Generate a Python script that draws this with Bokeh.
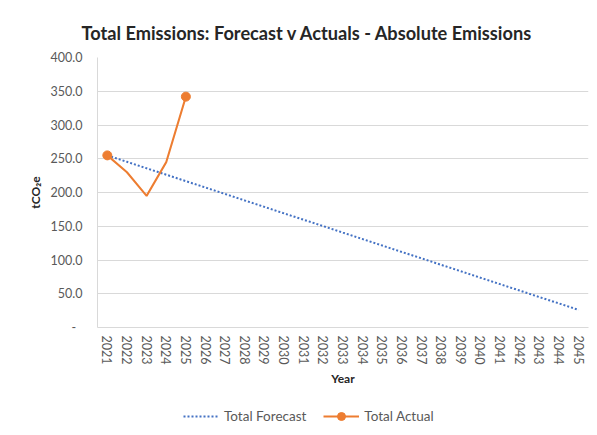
from bokeh.plotting import figure
from bokeh.layouts import column
from bokeh.models import (FactorRange, Range1d, FixedTicker, CustomJSTickFormatter,
                          Legend, LegendItem)
from bokeh.embed import file_html
from bokeh.resources import INLINE

# ---- data ----
years = ["2021", "2022", "2023", "2024", "2025", "2026", "2027", "2028", "2029",
         "2030", "2031", "2032", "2033", "2034", "2035", "2036", "2037", "2038",
         "2039", "2040", "2041", "2042", "2043", "2044", "2045"]
forecast = [255.0, 245.5, 235.9, 226.4, 216.8, 207.3, 197.8, 188.2, 178.7, 169.1,
            159.6, 150.1, 140.5, 131.0, 121.4, 111.9, 102.4, 92.8, 83.3, 73.7,
            64.2, 54.7, 45.1, 35.6, 26.0]
actual_years = ["2021", "2022", "2023", "2024", "2025"]
actual = [255.0, 230.0, 195.0, 245.0, 342.0]
y_ticks = [0, 50, 100, 150, 200, 250, 300, 350, 400]

marker_years = [actual_years[0], actual_years[-1]]
marker_vals = [actual[0], actual[-1]]

BLUE = "#4472C4"
ORANGE = "#ED7D31"
GRID = "#D9D9D9"
TXT = "#595959"
DARK = "#262626"
FONT = "Lato"

p = figure(width=597, height=395,
           x_range=FactorRange(factors=years, range_padding=0),
           y_range=Range1d(0, 400),
           output_backend="svg", toolbar_location=None,
           min_border_left=97, min_border_right=9,
           min_border_top=57, min_border_bottom=68)

p.title.text = "Total Emissions: Forecast v Actuals - Absolute Emissions"
p.title.text_font = FONT
p.title.text_font_size = "18.2px"
p.title.text_font_style = "bold"
p.title.text_color = DARK
p.title.align = "left"
p.title.offset = -16
p.title.standoff = 27

p.outline_line_color = None
p.background_fill_color = "white"
p.border_fill_color = "white"

# grid
p.xgrid.grid_line_color = None
p.ygrid.grid_line_color = GRID
p.ygrid.ticker = FixedTicker(ticks=y_ticks)

# y axis
p.yaxis.ticker = FixedTicker(ticks=y_ticks)
p.yaxis.formatter = CustomJSTickFormatter(
    code="return tick == 0 ? '-\u00a0\u00a0' : tick.toFixed(1);")
p.yaxis.axis_line_color = GRID
p.yaxis.major_tick_line_color = None
p.yaxis.minor_tick_line_color = None
p.yaxis.major_tick_out = 0
p.yaxis.major_tick_in = 0
p.yaxis.major_label_standoff = 15
p.yaxis.major_label_text_font = FONT
p.yaxis.major_label_text_font_size = "12.5px"
p.yaxis.major_label_text_color = TXT
p.yaxis.axis_label = "tCO\u2082e"
p.yaxis.axis_label_text_font = FONT
p.yaxis.axis_label_text_font_size = "12px"
p.yaxis.axis_label_text_font_style = "bold"
p.yaxis.axis_label_text_color = DARK
p.yaxis.axis_label_standoff = 5

# x axis
p.xaxis.axis_line_color = GRID
p.xaxis.major_tick_line_color = None
p.xaxis.minor_tick_line_color = None
p.xaxis.major_tick_out = 0
p.xaxis.major_tick_in = 0
p.xaxis.major_label_orientation = "vertical"
p.xaxis.major_label_standoff = 8
p.xaxis.major_label_text_font = FONT
p.xaxis.major_label_text_font_size = "12.5px"
p.xaxis.major_label_text_color = TXT
p.xaxis.axis_label = "Year"
p.xaxis.axis_label_text_font = FONT
p.xaxis.axis_label_text_font_size = "12px"
p.xaxis.axis_label_text_font_style = "bold"
p.xaxis.axis_label_text_color = DARK
p.xaxis.axis_label_standoff = 4

p.line(years, forecast, line_color=BLUE, line_width=2, line_dash="2 2")
p.line(actual_years, actual, line_color=ORANGE, line_width=2)
p.scatter(marker_years, marker_vals, size=9, color=ORANGE)

# ---- legend strip (library legend; sample renderers kept out of view) ----
leg = figure(width=597, height=40, x_range=Range1d(0, 1), y_range=Range1d(0, 1),
             output_backend="svg", toolbar_location=None,
             min_border_left=0, min_border_right=0, min_border_top=0,
             min_border_bottom=0)
leg.axis.visible = False
leg.grid.visible = False
leg.outline_line_color = None
leg.border_fill_color = "white"
leg.background_fill_color = "white"
lf = leg.line([-5, -4], [-5, -4], line_color=BLUE, line_width=2, line_dash="2 2")
la = leg.line([-5, -4], [-5, -4], line_color=ORANGE, line_width=2)
lm = leg.scatter([-5], [-5], size=9, color=ORANGE)
legend = Legend(items=[LegendItem(label="Total Forecast", renderers=[lf]),
                       LegendItem(label="Total Actual", renderers=[la, lm])],
                orientation="horizontal", location=(86, 9),
                border_line_color=None, background_fill_alpha=0,
                label_text_font=FONT, label_text_font_size="13.5px",
                label_text_color=TXT, glyph_width=36, spacing=17,
                padding=0, margin=0, label_standoff=5)
leg.add_layout(legend, "center")

open("out.html", "w").write(file_html(column(p, leg, spacing=0), INLINE))
